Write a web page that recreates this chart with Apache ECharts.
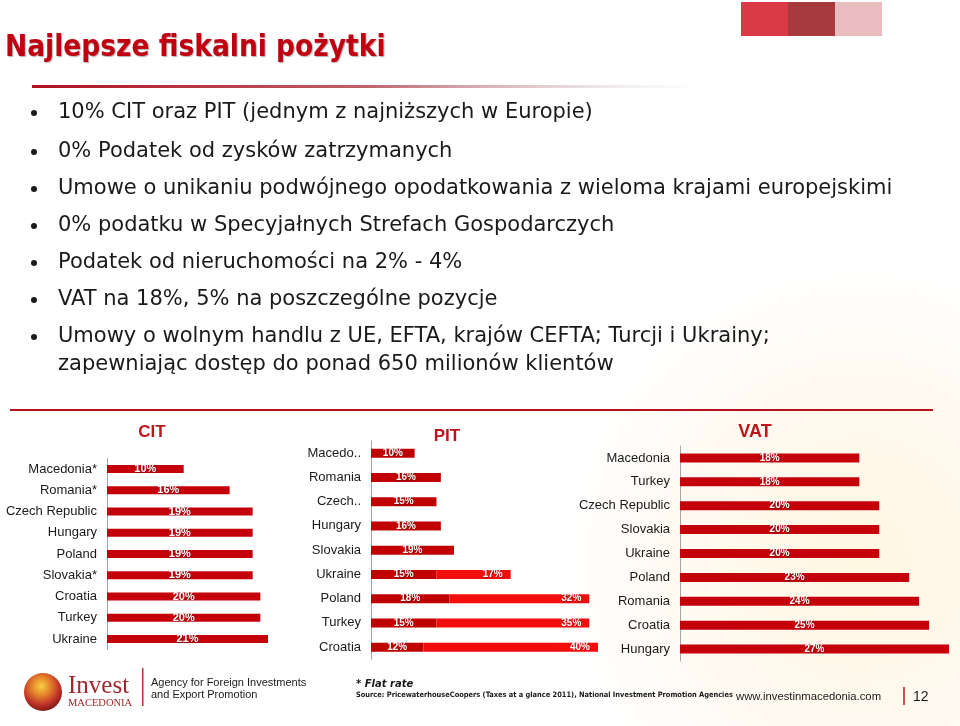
<!DOCTYPE html>
<html><head><meta charset="utf-8">
<script src="https://cdn.jsdelivr.net/npm/echarts@6/dist/echarts.min.js"></script>
<style>html,body{margin:0;padding:0;background:#fff}#c{width:960px;height:726px}</style>
</head><body><div id="c"></div>
<script>
const slideTitle = 'Najlepsze fiskalni pożytki';
const bullets = [
  '10% CIT oraz PIT (jednym z najniższych w Europie)',
  '0% Podatek od zysków zatrzymanych',
  'Umowe o unikaniu podwójnego opodatkowania z wieloma krajami europejskimi',
  '0% podatku w Specyjałnych Strefach Gospodarczych',
  'Podatek od nieruchomości na 2% - 4%',
  'VAT na 18%, 5% na poszczególne pozycje',
  'Umowy o wolnym handlu z UE, EFTA, krajów CEFTA; Turcji i Ukrainy;'
];
const bulletCont = 'zapewniając dostęp do ponad 650 milionów klientów';

const citCategories = ['Macedonia*','Romania*','Czech Republic','Hungary','Poland','Slovakia*','Croatia','Turkey','Ukraine'];
const citValues = [10,16,19,19,19,19,20,20,21];

const pitCategories = ['Macedo..','Romania','Czech..','Hungary','Slovakia','Ukraine','Poland','Turkey','Croatia'];
const pitLow = [10,16,15,16,19,15,18,15,12];
const pitHigh = [null,null,null,null,null,17,32,35,40];

const vatCategories = ['Macedonia','Turkey','Czech Republic','Slovakia','Ukraine','Poland','Romania','Croatia','Hungary'];
const vatValues = [18,18,20,20,20,23,24,25,27];

const chart = echarts.init(document.getElementById('c'), null, {renderer:'canvas'});
const catFont = {fontFamily:'Liberation Sans, Arial', fontSize:13, color:'#1a1a1a'};
const lblFont = {fontFamily:'Liberation Sans, Arial', fontWeight:'bold', color:'#fff', textShadowColor:'rgba(0,0,0,0.35)', textShadowBlur:1, textShadowOffsetX:0.5, textShadowOffsetY:0.5};

function yAx(i, cats){
  return {type:'category', gridIndex:i, data:cats, inverse:true,
    axisLine:{show:true, lineStyle:{color:'#a6a6a6', width:1}}, axisTick:{show:false},
    axisLabel:Object.assign({margin:10}, catFont)};
}
function xAx(i, max){
  return {type:'value', gridIndex:i, min:0, max:max, show:false, splitLine:{show:false}};
}
const pctFmt = p => p.value == null ? '' : p.value + '%';

const graphic = [];
// background warm tint
graphic.push({type:'circle', shape:{cx:860, cy:560, r:330}, silent:true, z:-10,
  style:{fill:{type:'radial', x:0.5, y:0.5, r:0.5, colorStops:[{offset:0,color:'rgba(255,236,190,0.45)'},{offset:0.6,color:'rgba(255,236,205,0.25)'},{offset:1,color:'rgba(255,255,255,0)'}]}}});
// squares
graphic.push({type:'rect', shape:{x:741,y:2,width:47,height:34}, style:{fill:'#d93a45'}});
graphic.push({type:'rect', shape:{x:788,y:2,width:47,height:34}, style:{fill:'#a63a3f'}});
graphic.push({type:'rect', shape:{x:835,y:2,width:47,height:34}, style:{fill:'#e9bcbf'}});
// title
graphic.push({type:'text', x:5, y:48, style:{text:slideTitle, fontFamily:'DejaVu Sans Condensed, Liberation Sans Narrow, sans-serif', fontWeight:'bold', fontSize:29.5, fill:'#c00010', textVerticalAlign:'middle', textShadowColor:'rgba(0,0,0,0.3)', textShadowOffsetX:1, textShadowOffsetY:1, textShadowBlur:1}});
// title underline gradient
graphic.push({type:'rect', shape:{x:32,y:85,width:668,height:3}, style:{fill:{type:'linear',x:0,y:0,x2:1,y2:0,colorStops:[{offset:0,color:'#b01020'},{offset:0.5,color:'#c0606a'},{offset:1,color:'rgba(200,200,200,0)'}]}}});
// bullets
const bY = [113,152,189,226,263,300,337];
const bFont = 'DejaVu Sans, sans-serif';
bullets.forEach((t,i)=>{
  graphic.push({type:'circle', shape:{cx:34, cy:bY[i], r:3}, style:{fill:'#1a1a1a'}});
  graphic.push({type:'text', x:58, y:bY[i], style:{text:t, fontFamily:bFont, fontSize:21, fill:'#1a1a1a', textVerticalAlign:'middle'}});
});
graphic.push({type:'text', x:58, y:365, style:{text:bulletCont, fontFamily:bFont, fontSize:21, fill:'#1a1a1a', textVerticalAlign:'middle'}});
// separator line
graphic.push({type:'rect', shape:{x:10,y:409,width:923,height:2}, style:{fill:'#b8101c'}});
// chart titles
const tFont = 'Liberation Sans, Arial';
graphic.push({type:'text', x:152, y:432, style:{text:'CIT', fontFamily:tFont, fontWeight:'bold', fontSize:17, fill:'#c0141c', textAlign:'center', textVerticalAlign:'middle'}});
graphic.push({type:'text', x:447, y:436, style:{text:'PIT', fontFamily:tFont, fontWeight:'bold', fontSize:17, fill:'#c0141c', textAlign:'center', textVerticalAlign:'middle', textShadowColor:'rgba(0,0,0,0.35)', textShadowOffsetX:1, textShadowOffsetY:1}});
graphic.push({type:'text', x:755, y:432, style:{text:'VAT', fontFamily:tFont, fontWeight:'bold', fontSize:18, fill:'#c0141c', textAlign:'center', textVerticalAlign:'middle', textShadowColor:'rgba(0,0,0,0.2)', textShadowOffsetX:1, textShadowOffsetY:1}});
// footer logo
graphic.push({type:'circle', shape:{cx:43, cy:692, r:19}, style:{fill:{type:'radial',x:0.45,y:0.35,r:0.65,colorStops:[{offset:0,color:'#f6cf45'},{offset:0.35,color:'#e58a2a'},{offset:0.75,color:'#c0302a'},{offset:1,color:'#7d1c12'}]}}});
graphic.push({type:'text', x:68, y:686, style:{text:'Invest', fontFamily:'Liberation Serif, DejaVu Serif, serif', fontSize:25, fill:'#a3282e', textVerticalAlign:'middle'}});
graphic.push({type:'text', x:68, y:703, style:{text:'MACEDONIA', fontFamily:'Liberation Serif, DejaVu Serif, serif', fontSize:10.5, fill:'#a3282e', textVerticalAlign:'middle'}});
graphic.push({type:'rect', shape:{x:142,y:668,width:1.5,height:38}, style:{fill:'#b8333a'}});
graphic.push({type:'text', x:151, y:683, style:{text:'Agency for Foreign Investments', fontFamily:tFont, fontSize:11, fill:'#1a1a1a', textVerticalAlign:'middle'}});
graphic.push({type:'text', x:151, y:695, style:{text:'and Export Promotion', fontFamily:tFont, fontSize:11, fill:'#1a1a1a', textVerticalAlign:'middle'}});
graphic.push({type:'text', x:356, y:684, style:{text:'* Flat rate', fontFamily:'DejaVu Sans, sans-serif', fontWeight:'bold', fontStyle:'italic', fontSize:10, fill:'#1a1a1a', textVerticalAlign:'middle'}});
graphic.push({type:'text', x:356, y:695, style:{text:'Source: PricewaterhouseCoopers (Taxes at a glance 2011), National Investment Promotion Agencies', fontFamily:'DejaVu Sans Condensed, sans-serif', fontWeight:'bold', fontSize:7.4, fill:'#1a1a1a', textVerticalAlign:'middle'}});
graphic.push({type:'text', x:736, y:697, style:{text:'www.investinmacedonia.com', fontFamily:tFont, fontSize:11.3, fill:'#1a1a1a', textVerticalAlign:'middle'}});
graphic.push({type:'rect', shape:{x:903,y:687,width:2,height:18}, style:{fill:'#c0504d'}});
graphic.push({type:'text', x:913, y:697, style:{text:'12', fontFamily:tFont, fontSize:14, fill:'#1a1a1a', textVerticalAlign:'middle'}});

const option = {
  animation:false,
  backgroundColor:'#ffffff',
  graphic: graphic,
  grid:[
    {left:107, top:458.4, width:161, height:191.25, containLabel:false},
    {left:371, top:441, width:227, height:218.25, containLabel:false},
    {left:680, top:446, width:269, height:215, containLabel:false}
  ],
  xAxis:[xAx(0,21), xAx(1,52), xAx(2,27)],
  yAxis:[yAx(0,citCategories), yAx(1,pitCategories), yAx(2,vatCategories)],
  series:[
    {type:'bar', xAxisIndex:0, yAxisIndex:0, data:citValues, barWidth:8,
      itemStyle:{color:'#c4000b'},
      label:Object.assign({show:true, position:'inside', fontSize:11, formatter:pctFmt}, lblFont)},
    {type:'bar', xAxisIndex:1, yAxisIndex:1, data:pitLow, stack:'pit', barWidth:9,
      itemStyle:{color:'#c00000'},
      label:Object.assign({show:true, position:'inside', fontSize:10, formatter:pctFmt}, lblFont)},
    {type:'bar', xAxisIndex:1, yAxisIndex:1, data:pitHigh, stack:'pit', barWidth:9,
      itemStyle:{color:'#f40d0d'},
      label:Object.assign({show:true, position:'insideRight', distance:8, fontSize:10, formatter:pctFmt}, lblFont)},
    {type:'bar', xAxisIndex:2, yAxisIndex:2, data:vatValues, barWidth:9,
      itemStyle:{color:'#c4000b'},
      label:Object.assign({show:true, position:'inside', fontSize:10, formatter:pctFmt}, lblFont)}
  ]
};
chart.setOption(option);
</script></body></html>
